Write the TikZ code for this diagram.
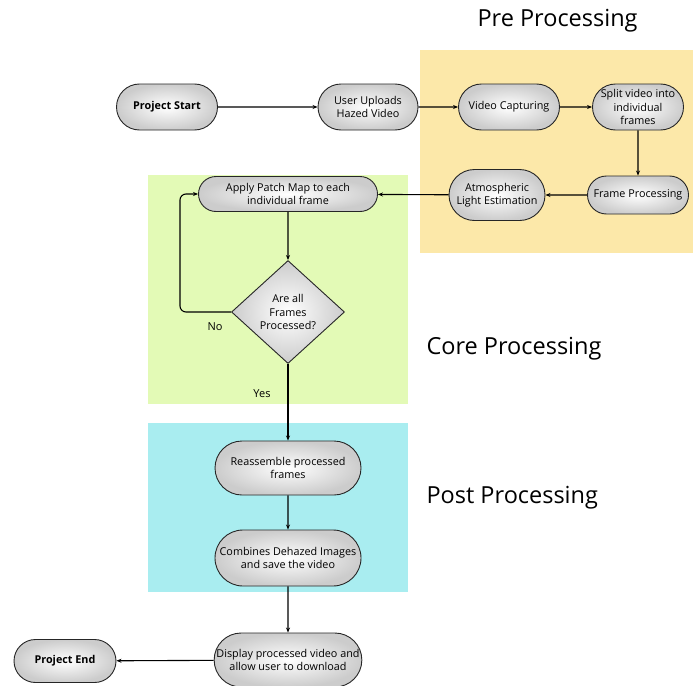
\documentclass[tikz,border=0pt]{standalone}
\usepackage{fontspec}
\setmainfont{Open Sans}
\usetikzlibrary{shapes.misc,shapes.geometric,arrows.meta}
\definecolor{preband}{HTML}{FCE8A9}
\definecolor{coreband}{HTML}{E3FAB6}
\definecolor{postband}{HTML}{A9EDF0}
\tikzset{
  pill/.style={rounded rectangle, draw=black!85, line width=0.9pt,
    inner color=white, outer color=black!20, align=center,
    font=\fontsize{10.8}{13.5}\selectfont, inner sep=0pt},
  decision/.style={diamond, draw=black!85, line width=0.9pt,
    inner color=white, outer color=black!20, align=center,
    font=\fontsize{10.8}{13.5}\selectfont, minimum width=113pt, minimum height=103pt,
    inner sep=0pt, aspect=1.1},
  flow/.style={line width=1.1pt, -{Stealth[length=5pt,width=4pt]}},
  heading/.style={font=\fontsize{23.5}{28}\selectfont, anchor=west},
  tag/.style={font=\fontsize{11}{13}\selectfont}
}
\begin{document}
\begin{tikzpicture}[x=1pt,y=-1pt]
\useasboundingbox (0,0) rectangle (693,685);
\clip (0,0) rectangle (693,685);
\fill[white] (0,0) rectangle (693,685);
% coloured stage backgrounds
\fill[preband] (420,50) rectangle (693,253);
\fill[coreband] (148,175) rectangle (408,404);
\fill[postband] (148,423) rectangle (408,592);
% stage headings
\node[heading] (hpre) at (474,21) {Pre Processing};
\node[heading] (hcore) at (423,349) {Core Processing};
\node[heading] (hpost) at (423,498) {Post Processing};
% process nodes
\node[pill, minimum width=101pt, minimum height=46pt, font=\fontsize{10.8}{13.5}\selectfont\bfseries] (start) at (167,107) {Project Start};
\node[pill, minimum width=100pt, minimum height=46pt] (upload) at (368,107) {User Uploads\\Hazed Video};
\node[pill, minimum width=101pt, minimum height=46pt] (capture) at (509,107) {Video Capturing};
\node[pill, minimum width=88pt, minimum height=46pt] (split) at (638,107) {Split video into\\individual\\frames};
\node[pill, minimum width=101pt, minimum height=38pt] (fproc) at (638,195) {Frame Processing};
\node[pill, minimum width=96pt, minimum height=51pt] (atmos) at (497,195) {Atmospheric\\Light Estimation};
\node[pill, minimum width=179pt, minimum height=35pt] (patch) at (288,194) {Apply Patch Map to each\\individual frame};
\node[decision] (check) at (288,312) {Are all\\Frames\\Processed?};
\node[pill, minimum width=146pt, minimum height=54pt] (reasm) at (288,468) {Reassemble processed\\frames};
\node[pill, minimum width=146pt, minimum height=56pt] (combine) at (288,558) {Combines Dehazed Images\\and save the video};
\node[pill, minimum width=144pt, minimum height=54pt] (display) at (288,660) {Display processed video and\\allow user to download};
\node[pill, minimum width=102pt, minimum height=43pt, font=\fontsize{10.8}{13.5}\selectfont\bfseries] (finish) at (65,661) {Project End};
% connectors
\draw[flow] (start) -- (upload);
\draw[flow] (upload) -- (capture);
\draw[flow] (capture) -- (split);
\draw[flow] (split) -- (fproc);
\draw[flow] (fproc) -- (atmos);
\draw[flow] (atmos) -- (patch);
\draw[flow] (patch) -- (check);
\coordinate (loopdown) at (180,312);
\coordinate (loopup) at (180,194);
\draw[flow, rounded corners=6pt] (check.west) -- (loopdown) -- (loopup) -- (patch.west);
\node[tag] (nolabel) at (215,327) {No};
\draw[flow] (check) -- (reasm);
\node[tag] (yeslabel) at (262,394) {Yes};
\draw[flow] (reasm) -- (combine);
\draw[flow] (combine) -- (display);
\draw[flow] (display) -- (finish);
\end{tikzpicture}
\end{document}
